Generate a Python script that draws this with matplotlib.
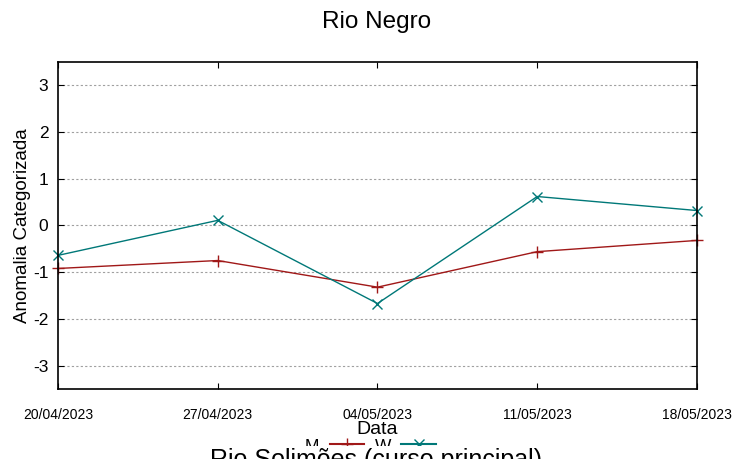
import matplotlib.pyplot as plt
from matplotlib.patches import Rectangle
from matplotlib.lines import Line2D

plt.rcParams['font.family'] = ['Liberation Sans', 'DejaVu Sans']
plt.rcParams['axes.unicode_minus'] = False

# Data
dates = ["20/04/2023", "27/04/2023", "04/05/2023", "11/05/2023", "18/05/2023"]
m_values = [-0.92, -0.75, -1.32, -0.56, -0.32]
w_values = [-0.64, 0.11, -1.67, 0.62, 0.32]
y_ticks = [-3, -2, -1, 0, 1, 2, 3]

red = "#a01818"
teal = "#007878"

fig = plt.figure(figsize=(7.53, 4.59), dpi=100)
ax = fig.add_axes([0.077, 0.1525, 0.8486, 0.7125])

x = list(range(len(dates)))
ax.plot(x, m_values, color=red, marker='+', markersize=8, linewidth=1, clip_on=False, label='M')
ax.plot(x, w_values, color=teal, marker='x', markersize=7, linewidth=1, clip_on=False, label='W')

ax.set_xlim(0, len(dates) - 1)
ax.set_ylim(-3.5, 3.5)
ax.set_xticks(x)
ax.set_xticklabels(dates, fontsize=10)
ax.set_yticks(y_ticks)
ax.set_yticklabels([str(v) for v in y_ticks], fontsize=12.5)
ax.tick_params(axis='y', direction='in', right=True, length=4, pad=7)
ax.tick_params(axis='x', direction='in', top=True, length=4, pad=14)
ax.grid(True, axis='y', linestyle=(0, (2, 2)), color='#a0a0a0', linewidth=0.8)
for s in ax.spines.values():
    s.set_linewidth(1.2)

ax.set_xlabel("Data", fontsize=14, labelpad=-1)
ax.set_ylabel("Anomalia Categorizada", fontsize=13.5, labelpad=1)
fig.suptitle("Rio Negro", fontsize=17.5, y=0.975)

# legend below the plot (gnuplot style: text then sample), mostly hidden
handles = [Line2D([], [], color=red, marker='+', linestyle='-', markersize=8),
           Line2D([], [], color=teal, marker='x', linestyle='-', markersize=7)]
leg = fig.legend(handles, ['M', 'W'], loc='center', bbox_to_anchor=(0.492, 1 - 446 / 459), ncol=2,
                 frameon=False, markerfirst=False, fontsize=12.5, handlelength=2.0,
                 handletextpad=0.6, columnspacing=0.6)
leg.set_zorder(3)

# next panel's title, cut off by the figure edge
fig.patches.append(Rectangle((0, 0), 1, 13 / 459, transform=fig.transFigure,
                             facecolor='white', edgecolor='none', zorder=5))
fig.text(0.5, 1 - 448 / 459, "Rio Solimões (curso principal)", fontsize=18,
         ha='center', va='top', zorder=6)

plt.savefig("out.png", dpi=100)
